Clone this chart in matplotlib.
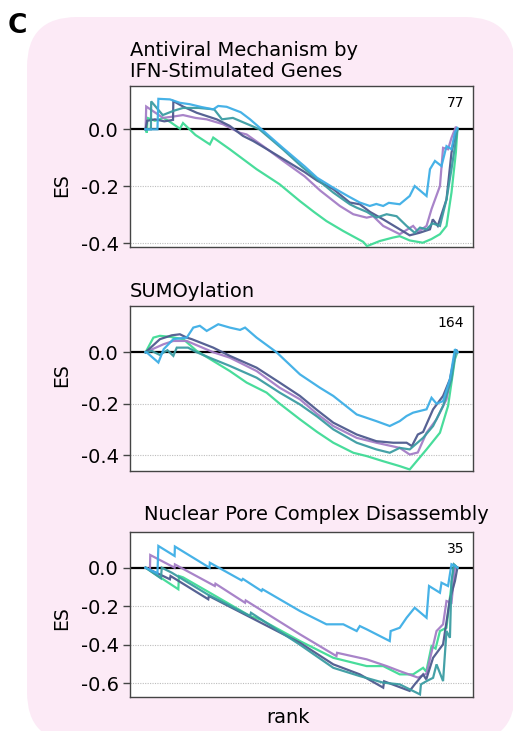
import matplotlib
matplotlib.use("Agg")
import matplotlib.pyplot as plt
import matplotlib.transforms as mtransforms
from matplotlib.patches import FancyBboxPatch

plt.rcParams['font.family'] = ['DejaVu Sans']
plt.rcParams['axes.unicode_minus'] = False

# ---------------- data (rank in % of ranked list, ES) ----------------
series_names = ["green", "purple", "navy", "teal", "blue"]
colors = {"blue": "#3DAEE6", "teal": "#3B9CA2", "navy": "#4E5A8E",
          "purple": "#A47DC6", "green": "#3FDB96"}

titles = [["Antiviral Mechanism by", "IFN-Stimulated Genes"], ["SUMOylation"],
          ["Nuclear Pore Complex Disassembly"]]
set_sizes = ["77", "164", "35"]
yticks = [[0.0, -0.2, -0.4], [0.0, -0.2, -0.4], [0.0, -0.2, -0.4, -0.6]]
ylims = [(-0.413, 0.152), (-0.462, 0.180), (-0.670, 0.187)]

# Panel 1: Antiviral Mechanism by IFN-Stimulated Genes
p1_blue_rank = [0, 3.8, 4.1, 7.8, 9.4, 11, 14.2, 18, 21.7, 23.3, 26, 28.1, 30.5, 33.5, 37.2, 44, 51, 55, 60.2, 65, 68.7, 71.9, 74, 76.2, 78, 81.5, 84.7, 86.3, 90.1, 91.2, 92.8, 94.9, 96.5, 98.1, 99.2, 100]
p1_blue_es = [0, 0.0, 0.107, 0.105, 0.099, 0.093, 0.088, 0.078, 0.07, 0.082, 0.079, 0.07, 0.06, 0.035, 0.0, -0.065, -0.13, -0.17, -0.205, -0.235, -0.257, -0.269, -0.262, -0.269, -0.258, -0.263, -0.234, -0.199, -0.234, -0.14, -0.111, -0.129, -0.059, -0.07, -0.012, 0.005]
p1_teal_rank = [0, 1.7, 1.8, 5.5, 9, 12, 17, 22, 24.5, 28, 34, 36.5, 44, 50, 55, 60.2, 65.5, 67.7, 71, 74, 77.3, 80.5, 83.7, 86.3, 88, 90.1, 92, 94.4, 96.5, 98.1, 99.2, 100]
p1_teal_es = [0, 0, 0.098, 0.05, 0.065, 0.075, 0.075, 0.07, 0.035, 0.04, 0.012, 0.0, -0.07, -0.13, -0.175, -0.222, -0.263, -0.275, -0.29, -0.31, -0.298, -0.305, -0.339, -0.363, -0.345, -0.351, -0.33, -0.339, -0.246, -0.14, -0.06, 0.0]
p1_navy_rank = [0, 0.5, 3, 6, 8.8, 8.9, 12, 16.4, 22.8, 27, 31.2, 34.5, 39.9, 45, 51, 55, 60.2, 65.5, 68.7, 72, 76.2, 81.5, 84.7, 87.9, 91.2, 92.1, 93.7, 96.5, 98.1, 99.5, 100]
p1_navy_es = [0, 0.03, 0.035, 0.028, 0.033, 0.099, 0.08, 0.058, 0.035, 0.012, -0.023, -0.041, -0.076, -0.11, -0.15, -0.18, -0.21, -0.257, -0.263, -0.29, -0.316, -0.351, -0.372, -0.363, -0.351, -0.316, -0.339, -0.246, -0.082, -0.01, 0.0]
p1_purple_rank = [0, 0.0, 0.2, 5.6, 9, 12, 16, 19.6, 24.8, 30.2, 32.4, 37.7, 44, 51, 56, 62.3, 66.6, 70.9, 73, 76.2, 81.5, 85.8, 87.4, 90.1, 91.7, 94.4, 95.4, 97, 98.1, 99.5, 100]
p1_purple_es = [0, 0.0, 0.08, 0.04, 0.045, 0.05, 0.04, 0.035, 0.018, -0.012, -0.018, -0.059, -0.11, -0.165, -0.215, -0.269, -0.298, -0.31, -0.305, -0.339, -0.368, -0.339, -0.36, -0.339, -0.28, -0.199, -0.065, -0.07, -0.03, 0.009, 0.0]
p1_green_rank = [0, 0.4, 0.6, 3, 5.7, 8, 11, 12, 16, 20.6, 21.7, 27, 35.6, 43, 49.5, 54, 58, 63.4, 69.8, 71, 75.1, 79.3, 81.5, 84.7, 88.9, 91.7, 94.4, 96.5, 98.1, 99.5, 100]
p1_green_es = [0, -0.012, 0.04, 0.03, 0.04, 0.025, 0.002, 0.022, -0.02, -0.053, -0.029, -0.07, -0.14, -0.193, -0.252, -0.29, -0.322, -0.357, -0.395, -0.41, -0.392, -0.38, -0.375, -0.39, -0.398, -0.385, -0.368, -0.339, -0.222, -0.082, 0.0]

# Panel 2: SUMOylation
p2_blue_rank = [0, 0.3, 4.1, 5.8, 8.9, 13.2, 15.3, 17.4, 19.6, 23.3, 27, 30.3, 31.9, 35.6, 42, 49.5, 55.9, 60.2, 67.7, 74, 78.3, 81.5, 83.7, 85.8, 90.1, 91.7, 93.3, 95.4, 97.6, 99.2, 100]
p2_blue_es = [0, 0, -0.04, 0.012, 0.051, 0.057, 0.096, 0.103, 0.083, 0.109, 0.096, 0.087, 0.096, 0.057, 0.0, -0.086, -0.138, -0.17, -0.242, -0.268, -0.287, -0.268, -0.248, -0.235, -0.222, -0.177, -0.2, -0.19, -0.105, 0.012, 0.0]
p2_navy_rank = [0, 4.6, 8.4, 11, 13.2, 14.8, 21.7, 27, 35.6, 43, 49.5, 55, 60.2, 67.7, 74, 79.4, 83.7, 85.4, 87.3, 89, 92.2, 95.4, 97.6, 99.5, 100]
p2_navy_es = [0, 0.051, 0.066, 0.07, 0.057, 0.051, 0.018, -0.014, -0.06, -0.118, -0.17, -0.225, -0.274, -0.32, -0.346, -0.352, -0.352, -0.365, -0.32, -0.31, -0.222, -0.17, -0.105, 0.01, 0.0]
p2_purple_rank = [0, 5.7, 8.9, 13.2, 21.7, 27, 35.6, 43, 49.5, 55, 60.2, 67.7, 74, 81.5, 84.7, 87.3, 90.1, 93.3, 96.5, 98.6, 99.7, 100]
p2_purple_es = [0, 0.031, 0.044, 0.044, 0.0, -0.021, -0.073, -0.138, -0.183, -0.24, -0.287, -0.333, -0.352, -0.372, -0.398, -0.39, -0.313, -0.261, -0.183, -0.053, 0.01, 0.0]
p2_teal_rank = [0, 2, 4.5, 7, 8.9, 10, 13.6, 16.4, 21.7, 27, 35.6, 43, 49.5, 55, 60.2, 67.7, 74, 78.3, 81.5, 84.7, 89, 92.2, 95.4, 98.1, 99.5, 100]
p2_teal_es = [0, 0.005, -0.01, 0.008, -0.014, 0.018, 0.018, 0.0, -0.027, -0.053, -0.099, -0.157, -0.203, -0.25, -0.3, -0.352, -0.378, -0.391, -0.372, -0.378, -0.333, -0.287, -0.209, -0.105, 0.01, 0.0]
p2_green_rank = [0, 2.5, 4.6, 7.8, 12.1, 16.4, 21.7, 27, 32.4, 38.8, 43, 49.5, 55, 60.2, 66.6, 70.9, 76.2, 81.5, 84.7, 87.4, 90.1, 94.4, 97, 99.2, 100]
p2_green_es = [0, 0.057, 0.064, 0.06, 0.051, 0.005, -0.034, -0.073, -0.118, -0.157, -0.2, -0.261, -0.31, -0.352, -0.391, -0.404, -0.424, -0.443, -0.456, -0.417, -0.378, -0.313, -0.209, -0.027, 0.0]

# Panel 3: Nuclear Pore Complex Disassembly
p3_blue_rank = [0, 3.8, 4.1, 9.3, 9.4, 20.5, 20.6, 30.8, 31.2, 37.2, 37.5, 49.5, 58, 63.4, 67.7, 68.7, 70.9, 78.3, 78.6, 81.5, 83.7, 86.3, 90.1, 90.9, 94.4, 94.9, 97, 98.1, 99.2, 100]
p3_blue_es = [0, -0.03, 0.113, 0.061, 0.11, 0.0, 0.026, -0.066, -0.058, -0.121, -0.112, -0.225, -0.294, -0.294, -0.329, -0.303, -0.32, -0.381, -0.329, -0.312, -0.26, -0.208, -0.26, -0.095, -0.13, -0.078, -0.095, 0.018, 0.01, 0.0]
p3_purple_rank = [0, 1.4, 1.5, 9.3, 9.4, 22.2, 22.4, 31.9, 32.1, 49.5, 61.2, 61.4, 70.9, 77.3, 81.5, 87.4, 90.1, 93.3, 95.4, 96.5, 98.1, 99.2, 100]
p3_purple_es = [0, -0.01, 0.066, 0.0, 0.017, -0.095, -0.083, -0.182, -0.17, -0.346, -0.459, -0.442, -0.476, -0.511, -0.537, -0.571, -0.55, -0.329, -0.294, -0.173, -0.182, 0.0, 0.0]
p3_navy_rank = [0, 7.8, 8.0, 20.1, 20.3, 49.5, 60.2, 68.7, 76.2, 76.5, 84.7, 86.3, 89, 90, 92.2, 95.4, 97.6, 99.2, 100]
p3_navy_es = [0, -0.06, -0.043, -0.164, -0.147, -0.39, -0.502, -0.554, -0.623, -0.59, -0.64, -0.606, -0.554, -0.58, -0.468, -0.398, -0.164, -0.07, 0.0]
p3_teal_rank = [0, 4.9, 5.2, 8.4, 20, 33.5, 33.8, 49.5, 60.2, 68.7, 76.2, 81.5, 88, 88.3, 90.1, 92.2, 93.3, 95.4, 96.5, 97.6, 98.1, 98.9, 100]
p3_teal_es = [0, -0.055, 0.0, -0.026, -0.14, -0.251, -0.234, -0.4, -0.52, -0.563, -0.597, -0.606, -0.658, -0.606, -0.589, -0.572, -0.502, -0.589, -0.329, -0.364, -0.07, 0.017, 0.0]
p3_green_rank = [0, 10.5, 10.7, 12, 20.6, 33.5, 37, 49.5, 60.2, 70.9, 76.2, 81.5, 85.8, 89, 90, 91.7, 93, 94.4, 96.5, 97.6, 98.9, 100]
p3_green_es = [0, -0.112, -0.043, -0.05, -0.13, -0.251, -0.27, -0.381, -0.468, -0.511, -0.511, -0.554, -0.554, -0.52, -0.54, -0.407, -0.42, -0.329, -0.312, -0.155, 0.017, 0.0]

panels = [
    {"blue": (p1_blue_rank, p1_blue_es), "teal": (p1_teal_rank, p1_teal_es),
     "navy": (p1_navy_rank, p1_navy_es), "purple": (p1_purple_rank, p1_purple_es),
     "green": (p1_green_rank, p1_green_es)},
    {"blue": (p2_blue_rank, p2_blue_es), "teal": (p2_teal_rank, p2_teal_es),
     "navy": (p2_navy_rank, p2_navy_es), "purple": (p2_purple_rank, p2_purple_es),
     "green": (p2_green_rank, p2_green_es)},
    {"blue": (p3_blue_rank, p3_blue_es), "teal": (p3_teal_rank, p3_teal_es),
     "navy": (p3_navy_rank, p3_navy_es), "purple": (p3_purple_rank, p3_purple_es),
     "green": (p3_green_rank, p3_green_es)},
]

# ---------------- layout (pixels) ----------------
W, H = 513, 731
fig = plt.figure(figsize=(W / 100, H / 100), dpi=100)
fig.patch.set_facecolor("white")

def fx(px):
    return px / W

def fy(py):
    return 1 - py / H

# pink rounded background
bg = FancyBboxPatch((27, H - 742), 488, 725,
                    boxstyle="round,pad=0,rounding_size=50",
                    facecolor="#FCEAF6", edgecolor="none",
                    transform=mtransforms.IdentityTransform(), zorder=0)
fig.add_artist(bg)

fig.text(fx(8), fy(33), "C", fontsize=19, fontweight="bold", ha="left", va="baseline")

axes_px = [(86, 247), (306, 471), (531.7, 696.7)]
es_label_y = [185, 375, 618]
title_baselines = [[56, 77], [297], [519.5]]
ax_left, ax_right = 130, 473

for i, (top, bot) in enumerate(axes_px):
    ax = fig.add_axes([fx(ax_left), fy(bot), fx(ax_right) - fx(ax_left), (bot - top) / H])
    ax.set_facecolor("white")
    ax.set_zorder(2)
    for yt in yticks[i]:
        if yt != 0.0:
            ax.axhline(yt, color="#BDBDBD", lw=0.8, ls=(0, (1, 1.2)), zorder=1)
    ax.axhline(0.0, color="black", lw=1.6, zorder=1.5)
    for name in series_names:
        r, es = panels[i][name]
        ax.plot(r, es, color=colors[name], lw=1.6, alpha=0.95, zorder=3,
                solid_joinstyle="miter")
    ax.set_xlim(-5, 105)
    ax.set_ylim(*ylims[i])
    ax.set_xticks([])
    ax.set_yticks(yticks[i])
    ax.set_yticklabels([f"{v:.1f}" for v in yticks[i]])
    ax.tick_params(axis="y", length=5, width=1, color="#444444", labelsize=14, pad=3)
    for sp in ax.spines.values():
        sp.set_color("#444444")
        sp.set_linewidth(1.0)
    ax.text(fx(464), fy(top + 10), set_sizes[i], fontsize=10, ha="right", va="top",
            transform=fig.transFigure)
    fig.text(fx(62), fy(es_label_y[i]), "ES", fontsize=13.5, rotation=90,
             ha="center", va="center")
    # titles
    if i < 2:
        for line, bl in zip(titles[i], title_baselines[i]):
            fig.text(fx(130), fy(bl), line, fontsize=14, ha="left", va="baseline")
    else:
        fig.text(fx(316), fy(title_baselines[i][0]), titles[i][0], fontsize=14,
                 ha="center", va="baseline")

fig.text(fx(288), fy(723), "rank", fontsize=14, ha="center", va="baseline")

fig.savefig("out.png", dpi=100)
